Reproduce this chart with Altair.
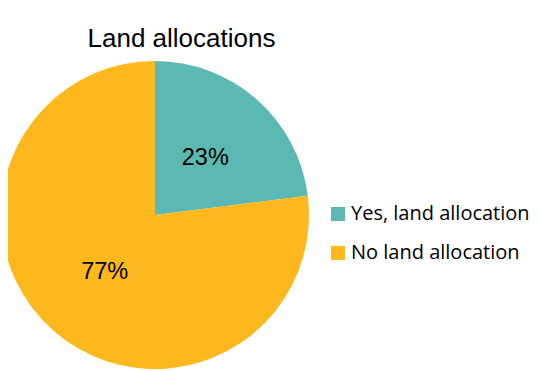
import altair as alt
import pandas as pd

categories = ["Yes, land allocation", "No land allocation"]
values = [23, 77]
labels = ["23%", "77%"]
colors = ["#5BB8B2", "#FDB81E"]

df = pd.DataFrame({"category": categories, "value": values, "label": labels, "order": [0, 1]})

base = alt.Chart(df).encode(
    theta=alt.Theta("value:Q", stack=True),
    order=alt.Order("order:O"),
)

pie = base.mark_arc(stroke=None).encode(
    x=alt.value(147),
    y=alt.value(207),
    radius=alt.value(154),
    color=alt.Color(
        "category:N",
        scale=alt.Scale(domain=categories, range=colors),
        sort=categories,
        legend=alt.Legend(
            title=None,
            orient="none",
            legendX=320,
            legendY=196,
            symbolType="square",
            symbolSize=196,
            symbolStrokeWidth=0,
            labelFontSize=20,
            labelFont="Open Sans",
            labelColor="#000000",
            labelLimit=400,
            rowPadding=19,
            labelOffset=3,
        ),
    ),
)

text = base.mark_text(font="Liberation Sans", fontSize=23.5, color="#000000").encode(
    x=alt.value(147),
    y=alt.value(207),
    radius=alt.value(76),
    text="label:N",
)

title = alt.Chart(pd.DataFrame({"t": ["Land allocations"]})).mark_text(
    font="Liberation Sans", fontSize=26, color="#000000", baseline="alphabetic"
).encode(x=alt.value(173.5), y=alt.value(39), text="t:N")

chart = alt.layer(pie, text, title).properties(
    width=525, height=363, autosize=alt.AutoSizeParams(type="none"), padding=0
).configure_view(stroke=None)

chart.save("out.html", embed_options={"renderer": "svg", "actions": False})
